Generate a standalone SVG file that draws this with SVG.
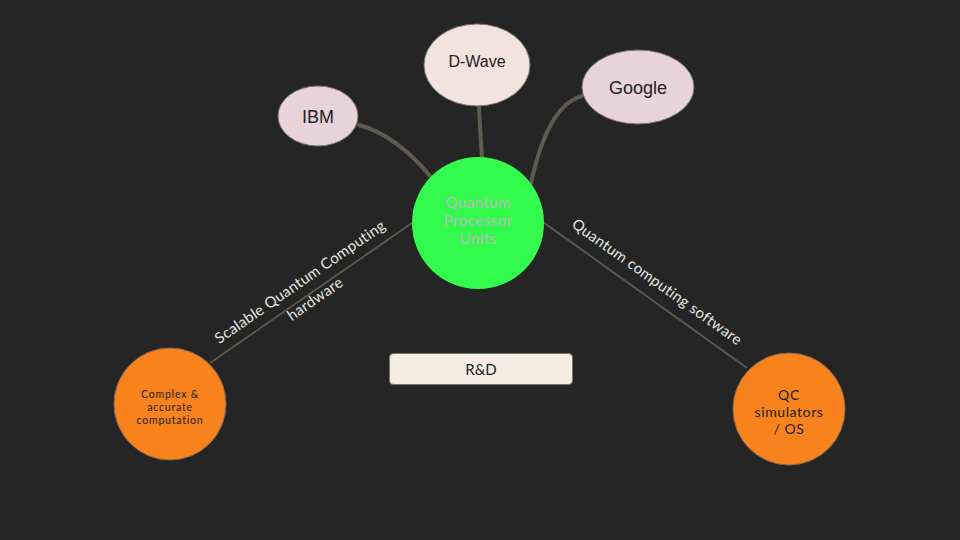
<svg xmlns="http://www.w3.org/2000/svg" width="960" height="540" viewBox="0 0 960 540">
<style>
.t{font-family:Lato,"Open Sans","Liberation Sans",sans-serif;text-anchor:middle;dominant-baseline:central}
.a{font-family:"Liberation Sans",Arial,sans-serif;text-anchor:middle;dominant-baseline:central}
.thick{fill:none;stroke:#5f5a52;stroke-width:4;stroke-linecap:round}
.thin{fill:none;stroke:#5f5a52;stroke-width:1.8}
.lbl{font-family:Lato,"Open Sans","Liberation Sans",sans-serif;font-size:15px;fill:#e4e8e0;text-anchor:middle;letter-spacing:0.3px}
.ell{stroke:#6f7a68;stroke-width:1}
</style>
<rect width="960" height="540" fill="#252525"/>
<g id="connectors">
<path class="thick" d="M359,125 Q396,135 431,177"/>
<path class="thick" d="M479,106 Q480,130 482,158"/>
<path class="thick" d="M582,96 Q548,105 531,183"/>
<line class="thin" x1="210" y1="363" x2="412" y2="223"/>
<line class="thin" x1="543" y1="222" x2="747" y2="368"/>
<text class="lbl" transform="translate(303,286) rotate(-34.8)">Scalable Quantum Computing</text>
<text class="lbl" transform="translate(318,303) rotate(-34.8)">hardware</text>
<text class="lbl" transform="translate(654,286) rotate(35.6)">Quantum computing software</text>
</g>
<g id="ibm">
<ellipse class="ell" cx="318" cy="116" rx="40" ry="30" fill="#e8d3da"/>
<text class="a" x="318" y="117" font-size="18" fill="#222">IBM</text>
</g>
<g id="dwave">
<ellipse class="ell" cx="477" cy="65" rx="53" ry="41" fill="#f3e3df"/>
<text class="a" x="477" y="61" font-size="16" fill="#222">D-Wave</text>
</g>
<g id="google">
<ellipse class="ell" cx="638" cy="87" rx="56" ry="37" fill="#e8d3da"/>
<text class="a" x="638" y="88" font-size="18" fill="#222">Google</text>
</g>
<g id="qpu">
<circle cx="478" cy="223" r="66" fill="#33fb4e"/>
<text class="t" x="478" y="202" font-size="15" fill="#b8b8b8" letter-spacing="0.5">Quantum</text>
<text class="t" x="478" y="220" font-size="15" fill="#b8b8b8" letter-spacing="0.5">Processor</text>
<text class="t" x="478" y="238" font-size="15" fill="#b8b8b8" letter-spacing="0.5">Units</text>
</g>
<g id="complex">
<circle cx="170" cy="404" r="56" fill="#f8821c" stroke="#8a6a50" stroke-width="1"/>
<text class="t" x="170" y="394" font-size="10.5" fill="#222" letter-spacing="0.8">Complex &amp;</text>
<text class="t" x="170" y="407" font-size="10.5" fill="#222" letter-spacing="0.8">accurate</text>
<text class="t" x="170" y="420" font-size="10.5" fill="#222" letter-spacing="0.8">computation</text>
</g>
<g id="qcsim">
<circle cx="789" cy="409" r="56" fill="#f8821c" stroke="#8a6a50" stroke-width="1"/>
<text class="t" x="789" y="394" font-size="14" fill="#222" letter-spacing="0.6">QC</text>
<text class="t" x="789" y="411" font-size="14" fill="#222" letter-spacing="0.6">simulators</text>
<text class="t" x="789" y="428" font-size="14" fill="#222" letter-spacing="0.6">/ OS</text>
</g>
<g id="rd">
<rect x="389.5" y="353.5" width="183" height="31" rx="4" fill="#f5ece2" stroke="#6f7a68" stroke-width="1"/>
<text class="t" x="481" y="369" font-size="15" fill="#222">R&amp;D</text>
</g>
</svg>
